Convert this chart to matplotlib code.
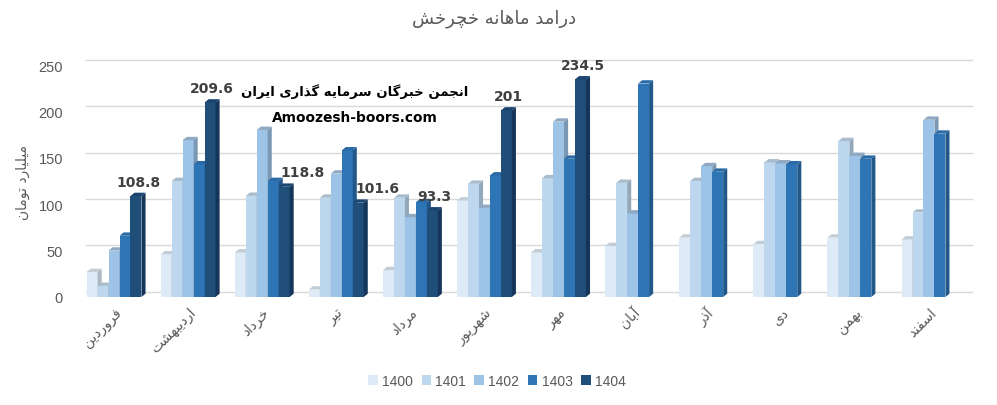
import matplotlib
matplotlib.use("Agg")
import matplotlib.pyplot as plt
from matplotlib.patches import Polygon, Rectangle
from matplotlib.transforms import ScaledTranslation
import numpy as np

# ---- data ----
months = ["فروردین", "اردیبهشت", "خرداد", "تیر", "مرداد", "شهریور",
          "مهر", "آبان", "آذر", "دی", "بهمن", "اسفند"]
years = ["1400", "1401", "1402", "1403", "1404"]
v1400 = [27, 46, 48, 8, 29, 104, 48, 55, 64, 57, 64, 62]
v1401 = [12, 125, 109, 107, 107, 122, 128, 123, 125, 145, 168, 91]
v1402 = [50, 169, 180, 133, 86, 96, 189, 90, 141, 144, 152, 191]
v1403 = [66, 143, 125, 158, 102, 131, 149, 230, 135, 143, 149, 176]
v1404 = [108.8, 209.6, 118.8, 101.6, 93.3, 201, 234.5, None, None, None, None, None]

title = "درامد ماهانه خچرخش"
ylabel = "میلیارد تومان"
mark1 = "انجمن خبرگان سرمایه گذاری ایران"
mark2 = "Amoozesh-boors.com"

front_cols = ["#DEEBF7", "#BDD7EE", "#9DC3E6", "#2E75B6", "#1F4E79"]
side_cols = ["#AEB8C2", "#93A8BA", "#7A98B4", "#22578A", "#15355A"]
top_cols = ["#C3CDD6", "#A9BCCB", "#8FA9C2", "#2A6AA6", "#1B4570"]

# ---- simple persian shaping (no reshaper available) ----
FORMS = {
    "ا": (0xFE8D, 0xFE8E, None, None), "آ": (0xFE81, 0xFE82, None, None),
    "ب": (0xFE8F, 0xFE90, 0xFE91, 0xFE92), "ت": (0xFE95, 0xFE96, 0xFE97, 0xFE98),
    "ج": (0xFE9D, 0xFE9E, 0xFE9F, 0xFEA0), "چ": (0xFB7A, 0xFB7B, 0xFB7C, 0xFB7D),
    "خ": (0xFEA5, 0xFEA6, 0xFEA7, 0xFEA8), "د": (0xFEA9, 0xFEAA, None, None),
    "ذ": (0xFEAB, 0xFEAC, None, None), "ر": (0xFEAD, 0xFEAE, None, None),
    "ز": (0xFEAF, 0xFEB0, None, None), "س": (0xFEB1, 0xFEB2, 0xFEB3, 0xFEB4),
    "ش": (0xFEB5, 0xFEB6, 0xFEB7, 0xFEB8), "ف": (0xFED1, 0xFED2, 0xFED3, 0xFED4),
    "ک": (0xFB8E, 0xFB8F, 0xFB90, 0xFB91), "گ": (0xFB92, 0xFB93, 0xFB94, 0xFB95),
    "ل": (0xFEDD, 0xFEDE, 0xFEDF, 0xFEE0), "م": (0xFEE1, 0xFEE2, 0xFEE3, 0xFEE4),
    "ن": (0xFEE5, 0xFEE6, 0xFEE7, 0xFEE8), "و": (0xFEED, 0xFEEE, None, None),
    "ه": (0xFEE9, 0xFEEA, 0xFEEB, 0xFEEC), "ی": (0xFBFC, 0xFBFD, 0xFBFE, 0xFBFF),
}


def fa(text):
    out = []
    for i, c in enumerate(text):
        if c not in FORMS:
            out.append(c)
            continue
        prev = text[i - 1] if i > 0 else None
        nxt = text[i + 1] if i + 1 < len(text) else None
        jp = prev in FORMS and FORMS[prev][2] is not None
        jn = nxt in FORMS and FORMS[c][2] is not None
        iso, fin, ini, med = FORMS[c]
        if jp and jn:
            code = med
        elif jp:
            code = fin
        elif jn:
            code = ini
        else:
            code = iso
        out.append(chr(code))
    return "".join(reversed(out))


plt.rcParams["font.family"] = ["Liberation Sans", "DejaVu Sans"]
grey = "#595959"

fig = plt.figure(figsize=(9.97, 4.06), dpi=100)
ax = fig.add_axes([77 / 997, 108 / 406, 889 / 997, 232 / 406])
ax.set_xlim(-0.5, 11.5)
ax.set_ylim(0, 250)

series = [v1400, v1401, v1402, v1403, v1404]
n = len(series)
w = 0.148
dx = 0.055   # depth in data units (x)
dy = 3.6     # depth in data units (y)
x = np.arange(len(months))

# back wall grid lines
for t in range(0, 251, 50):
    ax.plot([-0.38, 11.58], [t + 5.5, t + 5.5], color="#D9D9D9", lw=1.0,
            zorder=0, clip_on=False)

for gi in range(len(months)):
    for si in range(n):
        val = series[si][gi]
        if val is None:
            continue
        x0 = gi - n * w / 2 + si * w
        z = 2 + si
        ax.add_patch(Rectangle((x0, 0), w, val, facecolor=front_cols[si],
                               edgecolor="none", zorder=z))
        ax.add_patch(Polygon([(x0 + w, 0), (x0 + w + dx, dy), (x0 + w + dx, val + dy),
                              (x0 + w, val)], closed=True, facecolor=side_cols[si],
                             edgecolor="none", zorder=z))
        ax.add_patch(Polygon([(x0, val), (x0 + dx, val + dy), (x0 + w + dx, val + dy),
                              (x0 + w, val)], closed=True, facecolor=top_cols[si],
                             edgecolor="none", zorder=z))

# labels on 1404 bars
label_shift = {2: 16, 3: 17}
for gi, val in enumerate(v1404):
    if val is None:
        continue
    xc = gi - n * w / 2 + 4 * w + w / 2 + dx / 2
    ax.annotate(f"{val:g}", (xc, val + dy), xytext=(label_shift.get(gi, 0) * 0.72, 3),
                textcoords="offset points", ha="center", va="bottom",
                fontsize=10, fontweight="bold", color="#404040", zorder=20,
                family=["DejaVu Sans"])

ax.set_xticks(x)
ax.set_xticklabels([fa(m) for m in months], rotation=45, ha="right",
                   va="center", rotation_mode="anchor", fontsize=10,
                   color=grey, family=["DejaVu Sans"])
ax.tick_params(axis="x", length=0, pad=10)
shift = ScaledTranslation(5 / 100, 1 / 100, fig.dpi_scale_trans)
for lab in ax.get_xticklabels():
    lab.set_transform(lab.get_transform() + shift)
ax.set_yticks(range(0, 251, 50))
ax.tick_params(axis="y", length=0, pad=10, labelsize=10.5, labelcolor=grey)
for s in ax.spines.values():
    s.set_visible(False)

ax.set_ylabel(fa(ylabel), fontsize=10, color=grey, family=["DejaVu Sans"],
              labelpad=6)

fig.text(494 / 997, 1 - 19 / 406, fa(title), ha="center", va="center",
         fontsize=13, color=grey, family=["DejaVu Sans"])
fig.text(355 / 997, 1 - 92 / 406, fa(mark1), ha="center", va="center",
         fontsize=9.5, fontweight="bold", color="black", family=["DejaVu Sans"])
fig.text(355 / 997, 1 - 118 / 406, mark2, ha="center", va="center",
         fontsize=9.9, fontweight="bold", color="black", family=["DejaVu Sans"])

handles = [Rectangle((0, 0), 1, 1, facecolor=c, edgecolor="none") for c in front_cols]
fig.legend(handles, years, loc="center", bbox_to_anchor=(497 / 997, 1 - 382 / 406),
           ncol=5, frameon=False, fontsize=10, handlelength=0.7, handleheight=0.7,
           handletextpad=0.3, columnspacing=0.6, labelcolor=grey)

fig.savefig("out.png", dpi=100)
